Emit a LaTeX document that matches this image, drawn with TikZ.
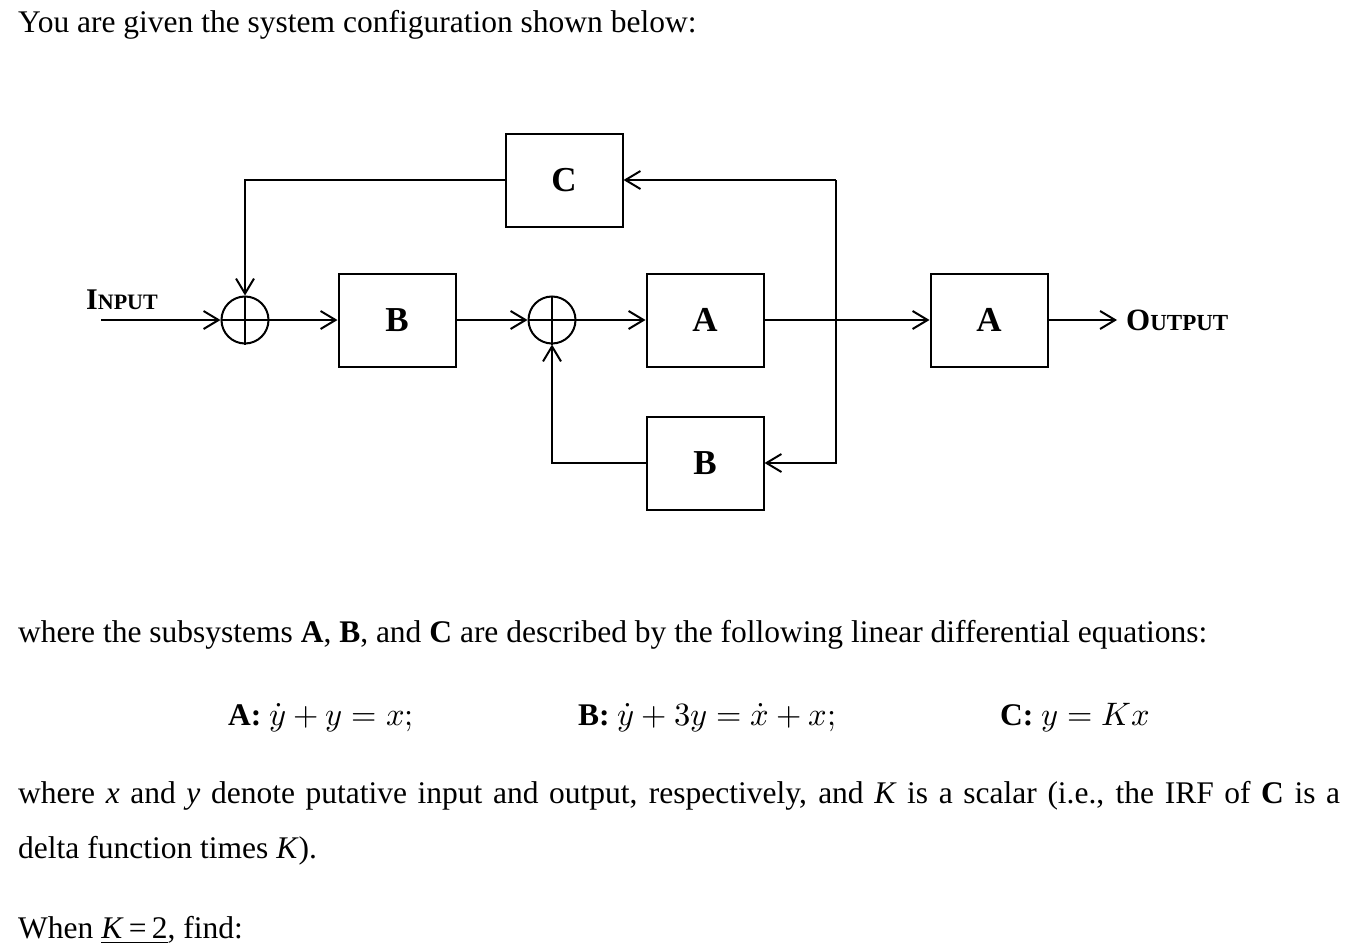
\documentclass[tikz,border=0pt]{standalone}
\usepackage{amsmath}
\usepackage{fontspec}
\usepackage{unicode-math}
\setmainfont{Liberation Serif}
\setmathfont{Latin Modern Math}
\usetikzlibrary{arrows.meta,positioning,calc}

\newcommand{\eqmath}[1]{{\fontsize{32.5}{40}\selectfont$#1$}}

\begin{document}
\begin{tikzpicture}[x=1pt,y=-1pt,
    blk/.style={draw, line width=2pt, minimum width=117pt, minimum height=93pt, inner sep=0pt,
      font=\fontsize{35}{40}\selectfont\bfseries},
    sumj/.style={draw, circle, line width=2pt, minimum size=47pt, inner sep=0pt},
    wire/.style={line width=2pt},
    sig/.style={wire, -{Straight Barb[length=15pt,width=18pt,line width=2pt]}},
    txt/.style={anchor=base west, inner sep=0pt, font=\fontsize{31.5}{36}\selectfont}]
    \useasboundingbox (0,0) rectangle (1366,950);

    \node[txt] (intro) at (18,33) {You are given the system configuration shown below:};

    % blocks and summing points
    \node[sumj] (s1) at (245,320) {};
    \node[blk]  (b1) at (397,320) {B};
    \node[sumj] (s2) at (552,320) {};
    \node[blk]  (a1) at (705,320) {A};
    \node[blk]  (a2) at (989,320) {A};
    \node[blk]  (c)  at (564,180) {C};
    \node[blk]  (b2) at (705,463) {B};
    \foreach \s in {s1,s2} {
        \draw[wire] (\s.north) -- (\s.south) (\s.west) -- (\s.east);
    }

    \coordinate (in)  at (101,320);
    \coordinate (out) at (1117,320);
    \coordinate (tap) at (836,180);
    \node[anchor=base west, inner sep=0pt, font=\bfseries] (inlbl) at (86,309)
        {{\fontsize{30}{30}\selectfont I}{\fontsize{22}{30}\selectfont NPUT}};
    \node[anchor=base west, inner sep=0pt, font=\bfseries] (outlbl) at (1126,330)
        {{\fontsize{31}{30}\selectfont O}{\fontsize{23}{30}\selectfont UTPUT}};

    % forward path
    \draw[sig] (in) -- (s1.west);
    \draw[sig] (s1.east) -- (b1.west);
    \draw[sig] (b1.east) -- (s2.west);
    \draw[sig] (s2.east) -- (a1.west);
    \draw[sig] (a1.east) -- (a2.west);
    \draw[sig] (a2.east) -- (out);

    % feedback paths
    \draw[wire] (tap) -- (tap |- a1.east);
    \draw[sig] (tap) -- (c.east);
    \draw[sig] (c.west) -| (s1.north);
    \draw[sig] (tap) |- (b2.east);
    \draw[sig] (b2.west) -| (s2.south);

    % text below
    \node[txt] (where) at (18,642) {where the subsystems \textbf{A}, \textbf{B}, and \textbf{C} are described by the following linear differential equations:};
    \node[txt] (eqa) at (228,725) {\textbf{A:} \eqmath{\dot{y}+y=x;}};
    \node[txt] (eqb) at (578,725) {\textbf{B:} \eqmath{\dot{y}+3y=\dot{x}+x;}};
    \node[txt] (eqc) at (1000,725) {\textbf{C:} \eqmath{y=Kx}};
    \node[txt] (note1) at (18,803) {\makebox[1322pt][s]{where \textit{x} and \textit{y} denote putative input and output, respectively, and \textit{K} is a scalar (i.e., the IRF of \textbf{C} is a}};
    \node[txt] (note2) at (18,858) {delta function times \textit{K}).};
    \node[txt] (when) at (18,938) {When \underline{\textit{K}\,=\,2}, find:};
\end{tikzpicture}
\end{document}
